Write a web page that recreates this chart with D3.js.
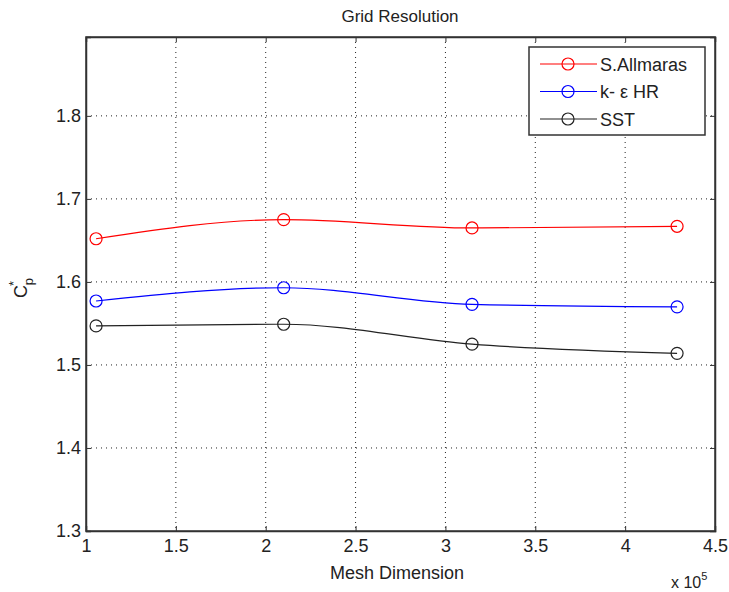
<!DOCTYPE html>
<html><head><meta charset="utf-8">
<script src="https://cdn.jsdelivr.net/npm/d3@7"></script>
<style>body{margin:0;background:#fff}svg{display:block}text{font-family:"Liberation Sans",Arial,sans-serif;fill:#222}</style>
</head><body><svg id="c" width="729" height="592"></svg>
<script>
const meshX = [1.056, 2.10, 3.148, 4.289];
const seriesNames = ["S.Allmaras", "k- \u03b5 HR", "SST"];
const seriesColors = ["#ff0000", "#0000ff", "#222222"];
const spalart = [1.652, 1.675, 1.665, 1.667];
const kepsHR = [1.577, 1.593, 1.573, 1.570];
const sst = [1.547, 1.549, 1.525, 1.514];
const xTicks = [1, 1.5, 2, 2.5, 3, 3.5, 4, 4.5];
const yTicks = [1.3, 1.4, 1.5, 1.6, 1.7, 1.8];
const allSeries = [spalart, kepsHR, sst];

const svg = d3.select("#c");
const L = 86, R = 715, T = 37, B = 531;
const x = d3.scaleLinear().domain([1, 4.5]).range([L, R]);
const y = d3.scaleLinear().domain([1.3, 1.895]).range([B, T]);

// grid
const g = svg.append("g");
g.selectAll(".gx").data(xTicks.slice(1, -1)).enter().append("line")
  .attr("x1", d => x(d)).attr("x2", d => x(d)).attr("y1", T).attr("y2", B)
  .attr("stroke", "#222").attr("stroke-width", 1).attr("stroke-dasharray", "1,4");
g.selectAll(".gy").data(yTicks.slice(1)).enter().append("line")
  .attr("x1", L).attr("x2", R).attr("y1", d => y(d)).attr("y2", d => y(d))
  .attr("stroke", "#222").attr("stroke-width", 1).attr("stroke-dasharray", "1,4");

// axes
const xa = svg.append("g").attr("transform", `translate(0,${B})`)
  .call(d3.axisBottom(x).tickValues(xTicks).tickSize(-5).tickPadding(8).tickFormat(d3.format("")));
const xt = svg.append("g").attr("transform", `translate(0,${T})`)
  .call(d3.axisTop(x).tickValues(xTicks).tickSize(-5).tickFormat(""));
const ya = svg.append("g").attr("transform", `translate(${L},0)`)
  .call(d3.axisLeft(y).tickValues(yTicks).tickSize(-5).tickPadding(5).tickFormat(d3.format(".1f")));
const yr = svg.append("g").attr("transform", `translate(${R},0)`)
  .call(d3.axisRight(y).tickValues(yTicks).tickSize(-5).tickFormat(""));
[xa, xt, ya, yr].forEach(a => {
  a.selectAll("path").attr("stroke", "#333").attr("stroke-width", 1.5);
  a.selectAll("line").attr("stroke", "#333");
  a.selectAll("text").attr("font-size", 18).attr("fill", "#222")
    .attr("font-family", "'Liberation Sans',Arial,sans-serif");
});
svg.append("rect").attr("x", L).attr("y", T).attr("width", R - L).attr("height", B - T)
  .attr("fill", "none").attr("stroke", "#333").attr("stroke-width", 1.5);

// lines
const line = d3.line().x((d, i) => x(meshX[i])).y(d => y(d)).curve(d3.curveMonotoneX);
allSeries.forEach((s, k) => {
  svg.append("path").datum(s).attr("d", line).attr("fill", "none")
    .attr("stroke", seriesColors[k]).attr("stroke-width", 1.2);
  svg.selectAll(".m" + k).data(s).enter().append("circle")
    .attr("cx", (d, i) => x(meshX[i])).attr("cy", d => y(d)).attr("r", 6)
    .attr("fill", "none").attr("stroke", seriesColors[k]).attr("stroke-width", 1.2);
});

// titles
svg.append("text").attr("x", 400).attr("y", 22).attr("text-anchor", "middle")
  .attr("font-size", 17).text("Grid Resolution");
svg.append("text").attr("x", 397).attr("y", 579).attr("text-anchor", "middle")
  .attr("font-size", 18).text("Mesh Dimension");
const xe = svg.append("text").attr("x", 671).attr("y", 588).attr("font-size", 16);
xe.append("tspan").text("x 10");
xe.append("tspan").attr("dy", -8).attr("font-size", 11).text("5");
const yl = svg.append("text").attr("transform", "translate(27,288) rotate(-90)")
  .attr("text-anchor", "middle").attr("font-size", 18);
yl.append("tspan").text("C");
yl.append("tspan").attr("dy", 6).attr("font-size", 13).text("p");
yl.append("tspan").attr("dy", -15).attr("dx", -8).attr("font-size", 13).text("*");

// legend
const lg = svg.append("g");
lg.append("rect").attr("x", 529).attr("y", 47).attr("width", 176).attr("height", 88)
  .attr("fill", "#fff").attr("stroke", "#333").attr("stroke-width", 1.5);
seriesNames.forEach((n, k) => {
  const yy = 64 + k * 27.5;
  lg.append("line").attr("x1", 540).attr("x2", 597).attr("y1", yy).attr("y2", yy)
    .attr("stroke", seriesColors[k]).attr("stroke-width", 1.2);
  lg.append("circle").attr("cx", 568).attr("cy", yy).attr("r", 6).attr("fill", "none")
    .attr("stroke", seriesColors[k]).attr("stroke-width", 1.2);
  lg.append("text").attr("x", 600).attr("y", yy + 6.5).attr("font-size", 18).text(n);
});
</script></body></html>
